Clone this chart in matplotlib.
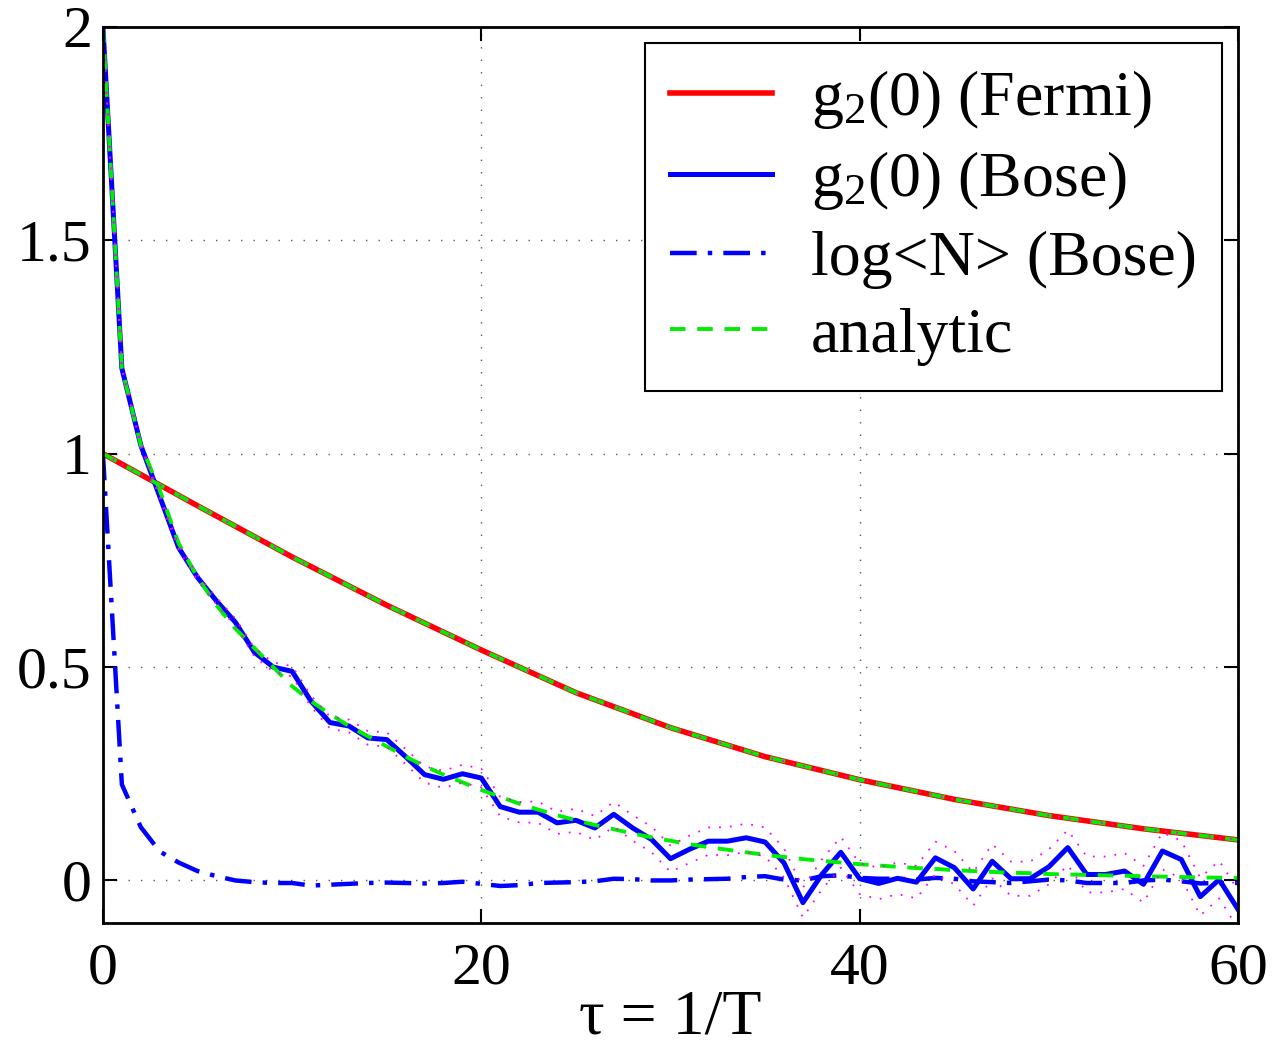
import numpy as np
import matplotlib
matplotlib.use('Agg')
import matplotlib.pyplot as plt

plt.rcParams['font.family'] = ['Liberation Serif', 'DejaVu Serif']
plt.rcParams['mathtext.fontset'] = 'custom'
plt.rcParams['mathtext.rm'] = 'Liberation Serif'
plt.rcParams['mathtext.it'] = 'Liberation Serif:italic'

# tau grid (integer steps)
tau = np.arange(0, 61)

# g2(0) Fermi, read every 5 units
tau_fermi = [0, 5, 10, 15, 20, 25, 30, 35, 40, 45, 50, 55, 60]
g2_fermi = [1.0, 0.878, 0.758, 0.645, 0.54, 0.44, 0.358, 0.29, 0.236, 0.19, 0.152, 0.121, 0.095]

# g2(0) Bose, simulation
g2_bose = [2.0, 1.2, 1.02, 0.90, 0.78, 0.71, 0.655, 0.605, 0.535, 0.50,
           0.49, 0.42, 0.37, 0.362, 0.334, 0.33, 0.29, 0.248, 0.237, 0.25,
           0.24, 0.173, 0.16, 0.16, 0.135, 0.141, 0.123, 0.155, 0.123, 0.096,
           0.051, 0.073, 0.092, 0.092, 0.10, 0.09, 0.041, -0.052, 0.014, 0.066,
           0.004, -0.007, 0.005, -0.004, 0.053, 0.03, -0.02, 0.045, 0.004, 0.004,
           0.032, 0.077, 0.014, 0.014, 0.022, -0.009, 0.069, 0.049, -0.038, 0.002,
           -0.068]

# statistical error of the Bose run
err_bose = [0.0, 0.003, 0.004, 0.005, 0.006, 0.007, 0.008, 0.009, 0.010, 0.011,
            0.012, 0.013, 0.014, 0.015, 0.016, 0.017, 0.018, 0.019, 0.020, 0.021,
            0.022, 0.023, 0.024, 0.025, 0.026, 0.027, 0.028, 0.029, 0.030, 0.030,
            0.031, 0.032, 0.032, 0.033, 0.033, 0.034, 0.034, 0.035, 0.035, 0.036,
            0.036, 0.037, 0.037, 0.038, 0.038, 0.039, 0.039, 0.040, 0.040, 0.040,
            0.041, 0.041, 0.042, 0.042, 0.042, 0.043, 0.043, 0.044, 0.044, 0.044,
            0.045]

# log<N> Bose
logN_bose = [1.0, 0.225, 0.125, 0.068, 0.042, 0.022, 0.01, 0.0, -0.004, -0.006,
             -0.006, -0.012, -0.01, -0.008, -0.006, -0.005, -0.006, -0.007, -0.006, -0.003,
             -0.008, -0.013, -0.011, -0.006, -0.005, -0.004, -0.002, 0.004, 0.003, 0.0,
             0.0, 0.002, 0.003, 0.004, 0.008, 0.01, 0.002, 0.0, 0.01, 0.012,
             0.006, 0.004, 0.004, 0.002, 0.006, 0.004, -0.002, -0.004, -0.006, -0.002,
             0.002, 0.0, -0.006, -0.006, -0.006, 0.0, 0.002, -0.002, -0.007, -0.006,
             -0.006]

# analytic Bose curve
g2_bose_an = [2.0, 1.2, 1.02, 0.915, 0.79, 0.71, 0.645, 0.59, 0.545, 0.50,
              0.455, 0.42, 0.39, 0.362, 0.338, 0.314, 0.29, 0.268, 0.248, 0.23,
              0.212, 0.196, 0.18, 0.166, 0.153, 0.141, 0.13, 0.12, 0.11, 0.101,
              0.093, 0.085, 0.078, 0.072, 0.066, 0.06, 0.055, 0.05, 0.046, 0.042,
              0.038, 0.035, 0.032, 0.029, 0.027, 0.024, 0.022, 0.02, 0.018, 0.017,
              0.015, 0.014, 0.013, 0.012, 0.011, 0.01, 0.009, 0.008, 0.007, 0.0065,
              0.006]

g2_bose = np.array(g2_bose)
err_bose = np.array(err_bose)

fig = plt.figure(figsize=(12.74, 10.49), dpi=100)
ax = fig.add_axes([0.0808, 0.120, 0.891, 0.8543])

ax.plot(tau_fermi, g2_fermi, color='red', lw=4, label='g$_2$(0) (Fermi)')
ax.plot(tau, g2_bose, color='blue', lw=3.6, label='g$_2$(0) (Bose)')
ax.plot(tau, logN_bose, color='blue', lw=3.2, ls=(0, (6, 2.5, 1, 2.5)),
        label='log<N> (Bose)')
ax.plot(tau_fermi, g2_fermi, color='#00ee00', lw=2.8, ls=(0, (4, 3)), label='analytic')
ax.plot(tau, g2_bose_an, color='#00ee00', lw=2.8, ls=(0, (4, 3)))

# error band of the simulation
ax.plot(tau, g2_bose + err_bose, color='magenta', lw=1.3, ls=(0, (1, 5)))
ax.plot(tau, g2_bose - err_bose, color='magenta', lw=1.3, ls=(0, (1, 5)))
ax.plot(tau_fermi, g2_fermi, color='magenta', lw=1.3, ls=(0, (1, 5)))

ax.set_xlim(0, 60)
ax.set_ylim(-0.1, 2)
ax.set_xticks([0, 20, 40, 60])
ax.set_yticks([0, 0.5, 1, 1.5, 2])
ax.set_yticklabels(['0', '0.5', '1', '1.5', '2'])
ax.grid(True, color='0.35', lw=1.0, ls=(0, (1, 8)))
ax.tick_params(direction='in', length=10, width=1.5, labelsize=43,
               top=True, right=True)
ax.tick_params(axis='x', pad=14)
ax.tick_params(axis='y', pad=8)
for s in ax.spines.values():
    s.set_linewidth(2)
ax.set_xlabel('τ = 1/T', fontsize=46, labelpad=-5)

leg = ax.legend(loc='upper right', fontsize=46, fancybox=False, framealpha=1,
                edgecolor='black', handlelength=1.6, handletextpad=0.6,
                labelspacing=0.28, borderpad=0.4, borderaxespad=0.25)
leg.get_frame().set_linewidth(1.5)

fig.savefig('out.png', dpi=100)
